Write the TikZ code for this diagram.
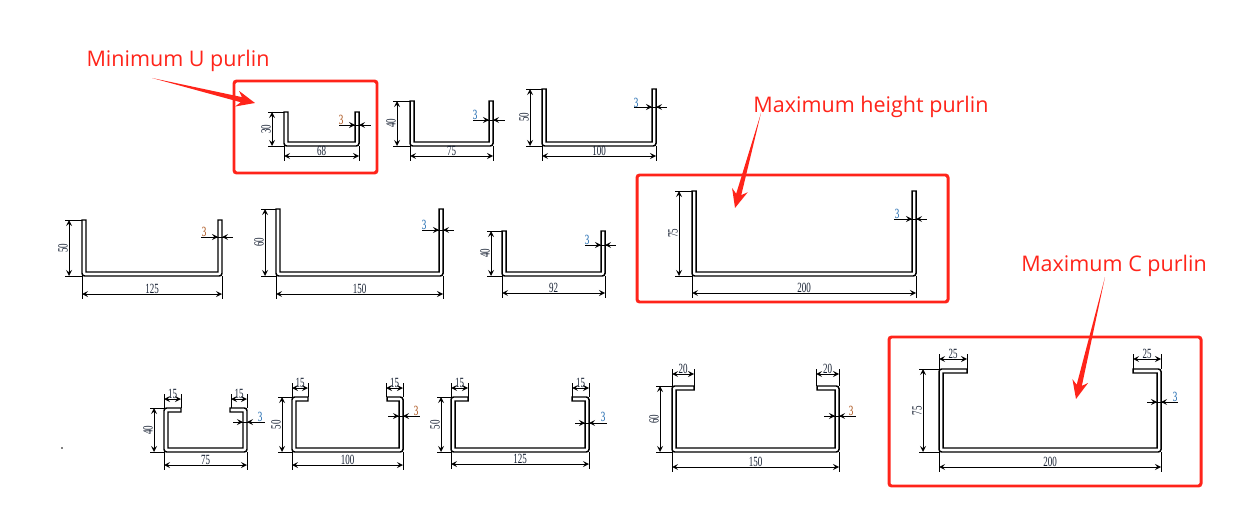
\documentclass[tikz,border=0pt]{standalone}
\usepackage{fontspec}
\setmainfont{Open Sans}
\newfontfamily\dimfont{Liberation Serif}
\usetikzlibrary{calc}
\definecolor{markred}{RGB}{255,36,26}
\definecolor{dimink}{RGB}{20,30,48}
\definecolor{dimblue}{RGB}{15,95,170}
\definecolor{dimorange}{RGB}{165,70,10}
\tikzset{
  purlin/.style={line width=0.85pt, black},
  dimline/.style={line width=0.5pt, black, >=stealth},
  dimnum/.style={inner sep=0pt, font=\dimfont\fontsize{8}{8}\selectfont, text=dimink},
  markbox/.style={draw=markred, line width=1.7pt, rounded corners=1.5pt},
  marklabel/.style={inner sep=0pt, text=markred, font=\fontsize{12.25}{15}\selectfont}
}
\newcommand{\dimtext}[1]{\scalebox{0.64}[1]{#1}}
% height and width dimensions of one section
\newcommand{\dimsection}[8]{
  \draw[dimline] (#5-4,#3) -- (#1,#3);
  \draw[dimline] (#5-4,#4) -- (#1,#4);
  \draw[dimline,<->] (#5,#3) -- (#5,#4);
  \draw[dimline] (#1,#4) -- (#1,#6+5);
  \draw[dimline] (#2,#4) -- (#2,#6+5);
  \draw[dimline,<->] (#1,#6) -- (#2,#6);
  \node[dimnum,rotate=90] at (#5-6,{(#3+#4)/2}) {\dimtext{#7}};
  \node[dimnum] at ({(#1+#2)/2},#6-5) {\dimtext{#8}};
}
% left, right, top, bottom, height dim x, width dim y, height, width
\newcommand{\upurlin}[8]{
  \draw[purlin] (#1,#3) [rounded corners=1.5pt] -- (#1,#4) -- (#2,#4) [sharp corners] -- (#2,#3) -- (#2-4,#3)
    -- (#2-4,#4-4) -- (#1+4,#4-4) -- (#1+4,#3) -- cycle;
  \dimsection{#1}{#2}{#3}{#4}{#5}{#6}{#7}{#8}
}
% left, right, top, lip width, height dim x, width dim y, height, width
\newcommand{\cpurlin}[8]{
  \draw[purlin] (#1+#4,#3) [rounded corners=1.5pt] -- (#1,#3) -- (#1,452) -- (#2,452) -- (#2,#3) [sharp corners] -- (#2-#4,#3)
    -- (#2-#4,#3+4) -- (#2-4,#3+4) -- (#2-4,448) -- (#1+4,448) -- (#1+4,#3+4) -- (#1+#4,#3+4) -- cycle;
  \dimsection{#1}{#2}{#3}{452}{#5}{#6}{#7}{#8}
}
% wall thickness: wall right side, y, line from, line to, label x, label y, colour
\newcommand{\wallthk}[7]{
  \draw[dimline] (#3,#2) -- (#4,#2);
  \draw[dimline,->] (#1-10,#2) -- (#1-4,#2);
  \draw[dimline,->] (#1+6,#2) -- (#1,#2);
  \node[dimnum,text=#7] at (#5,#6) {\dimtext{3}};
}
% lip width: from, to, dim y, top of lip, label
\newcommand{\lipdim}[5]{
  \draw[dimline] (#1,#3-5) -- (#1,#4);
  \draw[dimline] (#2,#3-5) -- (#2,#4);
  \draw[dimline,<->] (#1,#3) -- (#2,#3);
  \node[dimnum] at ({(#1+#2)/2},#3-5) {\dimtext{#5}};
}
% tapered red pointer
\newcommand{\pointer}[2]{
  \fill[markred] let \p1=($(#2)-(#1)$), \n1={atan2(\y1,\x1)}, \n2={veclen(\x1,\y1)} in
    [shift={(#1)},rotate=\n1] (0,0) -- (\n2-8pt,1.5pt) -- (\n2-10.5pt,4.6pt) -- (\n2,0)
    -- (\n2-10.5pt,-4.6pt) -- (\n2-8pt,-1.5pt) -- cycle;
}
\begin{document}
\begin{tikzpicture}[x=0.02cm,y=-0.02cm]
\useasboundingbox (0,0) rectangle (1258,517);

% U sections
\upurlin{284}{359}{112}{146}{272}{156}{30}{68}
\wallthk{359}{125}{339}{371}{341}{120}{dimorange}
\upurlin{410}{493}{101}{146}{397}{156}{40}{75}
\wallthk{493}{120}{473}{505}{475}{115}{dimblue}
\upurlin{542}{656}{89}{146}{530}{156}{50}{100}
\wallthk{656}{107}{634}{667}{636}{103}{dimblue}

\upurlin{82}{222}{220}{276}{69}{294}{50}{125}
\wallthk{222}{237}{201}{233}{204}{232}{dimorange}
\upurlin{276}{443}{209}{276}{265}{294}{60}{150}
\wallthk{443}{230}{422}{454}{424}{225}{dimblue}
\upurlin{502}{605}{231}{276}{491}{293}{40}{92}
\wallthk{605}{245}{585}{616}{587}{240}{dimblue}
\upurlin{692}{916}{191}{276}{679}{293}{75}{200}
\wallthk{916}{219}{894}{927}{897}{214}{dimblue}

% C sections
\cpurlin{164}{247}{408}{17}{154}{465}{40}{75}
\lipdim{164}{181}{399}{408}{15}
\lipdim{231}{247}{399}{408}{15}
\wallthk{247}{422}{233}{265}{260}{417}{dimblue}
\cpurlin{292}{403}{397}{16}{282}{465}{50}{100}
\lipdim{292}{308}{388}{397}{15}
\lipdim{386}{403}{388}{397}{15}
\wallthk{403}{416}{388}{420}{416}{411}{dimorange}
\cpurlin{451}{589}{397}{17}{441}{464}{50}{125}
\lipdim{451}{468}{388}{397}{15}
\lipdim{572}{589}{388}{397}{15}
\wallthk{589}{423}{575}{607}{603}{417}{dimblue}
\cpurlin{672}{839}{386}{22}{660}{467}{60}{150}
\lipdim{672}{694}{374}{386}{20}
\lipdim{816}{839}{374}{386}{20}
\wallthk{839}{416}{824}{856}{851}{411}{dimorange}
\cpurlin{939}{1161}{369}{28}{923}{467}{75}{200}
\lipdim{939}{967}{359}{369}{25}
\lipdim{1133}{1161}{359}{369}{25}
\wallthk{1161}{402}{1147}{1178}{1175}{397}{dimblue}

\fill (62,448) circle (0.5pt);

% marks
\draw[markbox] (234,81) rectangle (377,173);
\draw[markbox] (637,175) rectangle (948,302);
\draw[markbox] (889,337) rectangle (1201,486);

\node[marklabel] (minlabel) at (178,61) {Minimum U purlin};
\node[marklabel] (heightlabel) at (871,107) {Maximum height purlin};
\node[marklabel] (clabel) at (1114,266) {Maximum C purlin};

\coordinate (minstart) at (152,78);
\coordinate (mintip) at (255,103);
\coordinate (heightstart) at (761,113);
\coordinate (heighttip) at (735,208);
\coordinate (cstart) at (1105,277);
\coordinate (ctip) at (1076,399);
\pointer{minstart}{mintip}
\pointer{heightstart}{heighttip}
\pointer{cstart}{ctip}
\end{tikzpicture}
\end{document}
